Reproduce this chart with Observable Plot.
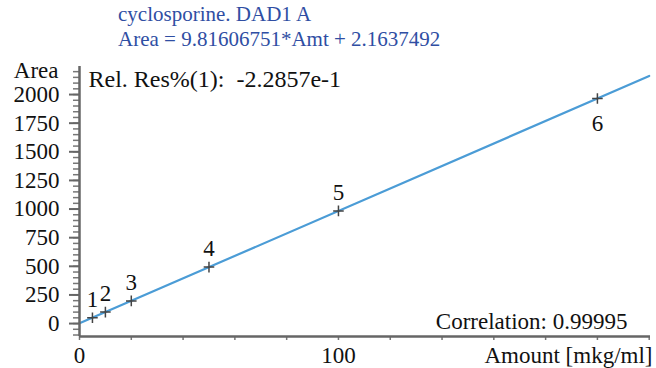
<!DOCTYPE html>
<html>
<head>
<meta charset="utf-8">
<script src="https://cdn.jsdelivr.net/npm/d3@7"></script>
<script src="https://cdn.jsdelivr.net/npm/@observablehq/plot@0.6"></script>
<style>
  body { margin: 0; background: #fff; }
  #wrap { position: relative; width: 656px; height: 368px; font-family: "Liberation Serif", "Times New Roman", serif; }
  #title { position: absolute; left: 118px; top: 2px; color: #2f4ea3; font-size: 21px; line-height: 25px; white-space: nowrap; }
</style>
</head>
<body>
<div id="wrap">
  <div id="chart"></div>
  <div id="title">cyclosporine. DAD1 A<br>Area = 9.81606751*Amt + 2.1637492</div>
</div>
<script>
const levels = ["1", "2", "3", "4", "5", "6"];
const amounts = [5, 10, 20, 50, 100, 200];
const areas = [51, 100, 198, 493, 984, 1965];
const fitX = [0, 220];
const fitY = [2, 2162];
const yMajor = [0, 250, 500, 750, 1000, 1250, 1500, 1750, 2000];
const yMinor = d3.range(-100, 2250, 50);
const xMinor = d3.range(0, 221, 20);
const xLabels = [0, 100];

const pts = levels.map((l, i) => ({level: l, amt: amounts[i], area: areas[i]}));
const fit = fitX.map((x, i) => ({x, y: fitY[i]}));
const font = "Liberation Serif, Times New Roman, serif";

const chart = Plot.plot({
  width: 656,
  height: 368,
  marginLeft: 79,
  marginRight: 6,
  marginTop: 66,
  marginBottom: 32,
  style: {fontFamily: font, background: "#fff"},
  x: {domain: [0, 220.5], axis: null},
  y: {domain: [-113, 2245], axis: null},
  marks: [
    Plot.line(fit, {x: "x", y: "y", stroke: "#4b9cd6", strokeWidth: 2.2}),
    Plot.dot(pts, {x: "amt", y: "area", symbol: "plus", r: 3.5, stroke: "#444", strokeWidth: 1.5}),
    Plot.text(pts.filter(d => d.level !== "6"), {x: "amt", y: "area", text: "level", dy: -18, fontSize: 23, fill: "#111"}),
    Plot.text(pts.filter(d => d.level === "6"), {x: "amt", y: "area", text: "level", dy: 25, fontSize: 23, fill: "#111"}),
    Plot.axisY(yMinor, {anchor: "left", tickSize: 6, text: null, stroke: "#777", strokeWidth: 1.5}),
    Plot.axisY(yMajor, {anchor: "left", tickSize: 10, tickPadding: 10, fontSize: 23, tickFormat: d => String(d), stroke: "#666", strokeWidth: 2, fill: "#111", label: null}),
    Plot.axisX(xMinor, {anchor: "bottom", tickSize: 4, text: null, stroke: "#777", strokeWidth: 1.5, label: null}),
    Plot.axisX(xLabels, {anchor: "bottom", tickSize: 0, tickPadding: 10, fontSize: 23, tickFormat: d => String(d), fill: "#111", label: null}),
    Plot.ruleX([0], {stroke: "#666", strokeWidth: 2.5}),
    Plot.ruleY([-113], {stroke: "#666", strokeWidth: 2.5}),
    Plot.text(["Area"], {frameAnchor: "top-left", dx: -21, dy: -5, textAnchor: "end", fontSize: 23, fill: "#111"}),
    Plot.text(["Rel. Res%(1):  -2.2857e-1"], {frameAnchor: "top-left", dx: 9, dy: 3, textAnchor: "start", fontSize: 24, fill: "#111"}),
    Plot.text(["Correlation: 0.99995"], {frameAnchor: "bottom-right", dx: -23, dy: -8, textAnchor: "end", fontSize: 23, fill: "#111"}),
    Plot.text(["Amount [mkg/ml]"], {frameAnchor: "bottom-right", dx: 2, dy: 26, textAnchor: "end", fontSize: 23, fill: "#111"})
  ]
});
document.getElementById("chart").appendChild(chart);
</script>
</body>
</html>
